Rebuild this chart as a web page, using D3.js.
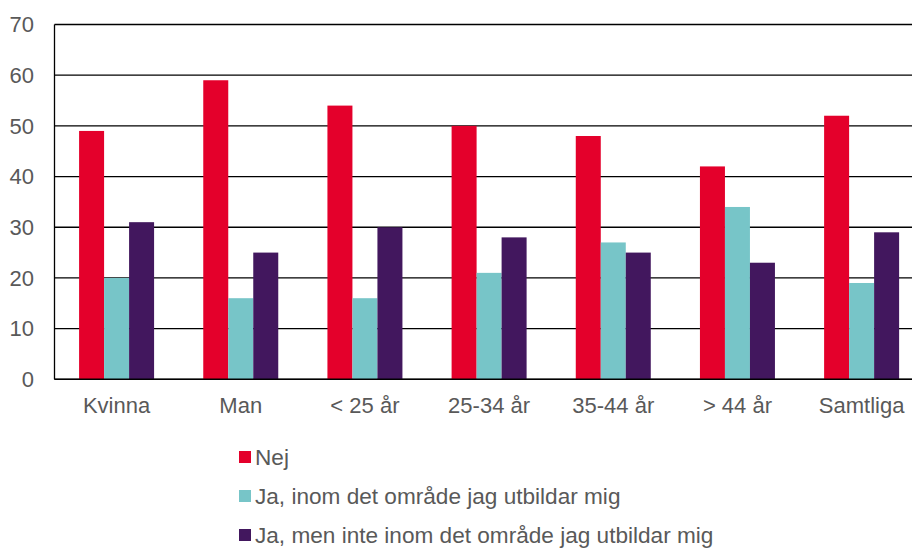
<!DOCTYPE html>
<html>
<head>
<meta charset="utf-8">
<script src="https://cdn.jsdelivr.net/npm/d3@7/dist/d3.min.js"></script>
<style>
  html, body { margin: 0; padding: 0; background: #fff; }
  svg { display: block; }
  text { font-family: "Liberation Sans", Arial, sans-serif; fill: #595959; }
</style>
</head>
<body>
<svg id="chart" width="912" height="549"></svg>
<script>
// ── Data ──────────────────────────────────────────────────────────────────────

const categories = ['Kvinna', 'Man', '< 25 år', '25-34 år', '35-44 år', '> 44 år', 'Samtliga'];
const seriesNames = [
  'Nej',
  'Ja, inom det område jag utbildar mig',
  'Ja, men inte inom det område jag utbildar mig'
];
const nej       = [49, 59, 54, 50, 48, 42, 52];
const jaInom    = [20, 16, 16, 21, 27, 34, 19];
const jaMenInte = [31, 25, 30, 28, 25, 23, 29];
const yTicks = [0, 10, 20, 30, 40, 50, 60, 70];
const colors = ['#e4002b', '#77c5c8', '#42175e'];

const seriesValues = [nej, jaInom, jaMenInte];

// ── Layout ────────────────────────────────────────────────────────────────────

const svg = d3.select('#chart');
const plotL = 54.5, plotR = 923.7, plotT = 24.5, plotB = 379.3;
const FONT = 22;

const x = d3.scaleBand().domain(categories).range([plotL, plotR]).padding(0);
const y = d3.scaleLinear().domain([0, 70]).range([plotB, plotT]);
const barW = 25;
const xs = d3.scaleBand().domain(d3.range(3)).range([-barW * 1.5, barW * 1.5]);

// gridlines
svg.append('g')
  .selectAll('line')
  .data(yTicks)
  .join('line')
  .attr('x1', plotL).attr('x2', plotR)
  .attr('y1', d => y(d)).attr('y2', d => y(d))
  .attr('stroke', '#000').attr('stroke-width', 1.3);

// bars
const groups = svg.append('g')
  .selectAll('g')
  .data(categories)
  .join('g')
  .attr('transform', c => `translate(${x(c) + x.bandwidth() / 2},0)`);

groups.selectAll('rect')
  .data((c, i) => seriesValues.map((s, k) => ({ k, v: s[i] })))
  .join('rect')
  .attr('x', d => xs(d.k))
  .attr('width', xs.bandwidth())
  .attr('y', d => y(d.v))
  .attr('height', d => y(0) - y(d.v))
  .attr('fill', d => colors[d.k]);

// axis lines
svg.append('line')
  .attr('x1', plotL).attr('x2', plotL).attr('y1', plotT).attr('y2', plotB)
  .attr('stroke', '#000').attr('stroke-width', 1.3);
svg.append('line')
  .attr('x1', plotL).attr('x2', plotR).attr('y1', plotB).attr('y2', plotB)
  .attr('stroke', '#000').attr('stroke-width', 1.5);

// y tick labels
svg.append('g')
  .selectAll('text')
  .data(yTicks)
  .join('text')
  .attr('x', 34).attr('y', d => y(d))
  .attr('dy', '0.35em')
  .attr('text-anchor', 'end')
  .attr('font-size', FONT)
  .text(d => d);

// x labels
svg.append('g')
  .selectAll('text')
  .data(categories)
  .join('text')
  .attr('x', c => x(c) + x.bandwidth() / 2)
  .attr('y', 413)
  .attr('text-anchor', 'middle')
  .attr('font-size', FONT)
  .text(c => c);

// legend
const legend = svg.append('g')
  .selectAll('g')
  .data(seriesNames)
  .join('g')
  .attr('transform', (d, i) => `translate(239,${465 + i * 39})`);

legend.append('rect')
  .attr('x', 0).attr('y', -14)
  .attr('width', 12).attr('height', 12)
  .attr('fill', (d, i) => colors[i]);

legend.append('text')
  .attr('x', 16).attr('y', 0)
  .attr('font-size', 22.6)
  .text(d => d);
</script>
</body>
</html>
